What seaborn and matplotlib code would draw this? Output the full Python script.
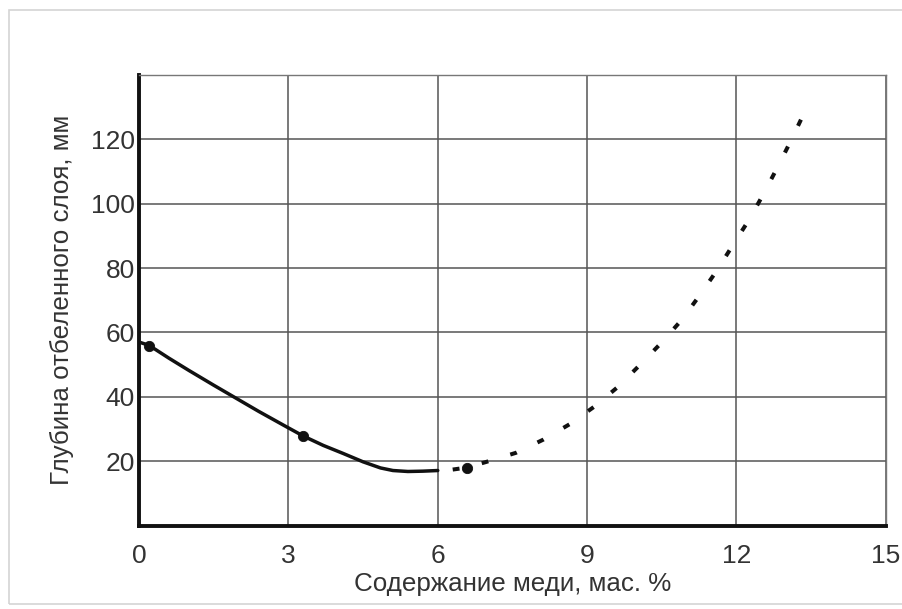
import pandas as pd
import seaborn as sns
import matplotlib.pyplot as plt
from matplotlib.patches import Rectangle

# solid branch
solid_x = [0.0, 0.2, 0.6, 1.0, 1.5, 1.9, 2.4, 2.9, 3.3, 3.7, 4.1, 4.5, 4.85, 5.1, 5.4, 5.7, 6.0]
solid_y = [57.0, 56.0, 52.0, 48.2, 43.6, 40.0, 35.5, 31.2, 27.8, 24.9, 22.4, 19.8, 17.9, 17.1, 16.8, 16.9, 17.1]

# dashed branch
dash_x = [6.3, 6.58, 6.98, 7.57, 8.12, 8.65, 9.14, 9.62, 10.06, 10.48, 10.9, 11.25,
          11.6, 11.93, 12.26, 12.56, 12.84, 13.12, 13.39]
dash_y = [17.4, 18.0, 19.8, 22.6, 26.7, 31.5, 36.9, 43.1, 49.9, 56.6, 63.9, 71.3,
          79.1, 87.2, 95.2, 103.5, 111.8, 120.4, 129.2]

# experimental points
pts_x = [0.2, 3.3, 6.58]
pts_y = [55.8, 27.8, 18.0]

x_ticks = [0, 3, 6, 9, 12, 15]
y_ticks = [20, 40, 60, 80, 100, 120]


def main() -> None:
    sns.set_style("white")
    plt.rcParams["font.family"] = ["Liberation Sans", "DejaVu Sans"]

    solid = pd.DataFrame({"x": solid_x, "y": solid_y})
    dashed = pd.DataFrame({"x": dash_x, "y": dash_y})
    pts = pd.DataFrame({"x": pts_x, "y": pts_y})

    fig = plt.figure(figsize=(9.03, 6.09), dpi=100)
    ax = fig.add_axes([0.154, 0.137, 0.827, 0.74])

    fig.patches.append(Rectangle((0.01, 0.008), 1.2, 0.976, transform=fig.transFigure,
                                 fill=False, edgecolor="#d4d4d4", linewidth=1.2))

    sns.lineplot(data=solid, x="x", y="y", sort=False, color="#111111",
                 linewidth=2.5, ax=ax)
    sns.lineplot(data=dashed, x="x", y="y", sort=False, color="#111111",
                 linewidth=2.9, dashes=False, ax=ax)
    ax.lines[-1].set_dashes((1.7, 5.7))
    sns.scatterplot(data=pts, x="x", y="y", color="#111111", s=55,
                    edgecolor="#111111", zorder=5, ax=ax)

    ax.set_xlim(0, 15)
    ax.set_ylim(0, 140)
    ax.set_xticks(x_ticks)
    ax.set_yticks(y_ticks)
    ax.grid(True, color="#555555", linewidth=1.1)
    ax.set_axisbelow(True)

    for side in ["top", "right"]:
        ax.spines[side].set_color("#777777")
        ax.spines[side].set_linewidth(1.0)
    for side in ["left", "bottom"]:
        ax.spines[side].set_color("#111111")
        ax.spines[side].set_linewidth(2.8)

    ax.tick_params(axis="both", length=0, labelsize=19, colors="#333333")
    ax.tick_params(axis="x", pad=13)
    ax.tick_params(axis="y", pad=3)
    ax.set_xlabel("Содержание меди, мас. %", fontsize=18.7, color="#333333", labelpad=3)
    ax.set_ylabel("Глубина отбеленного слоя, мм", fontsize=18.7, color="#333333", labelpad=12)

    fig.savefig("out.png", dpi=100)


if __name__ == "__main__":
    main()
